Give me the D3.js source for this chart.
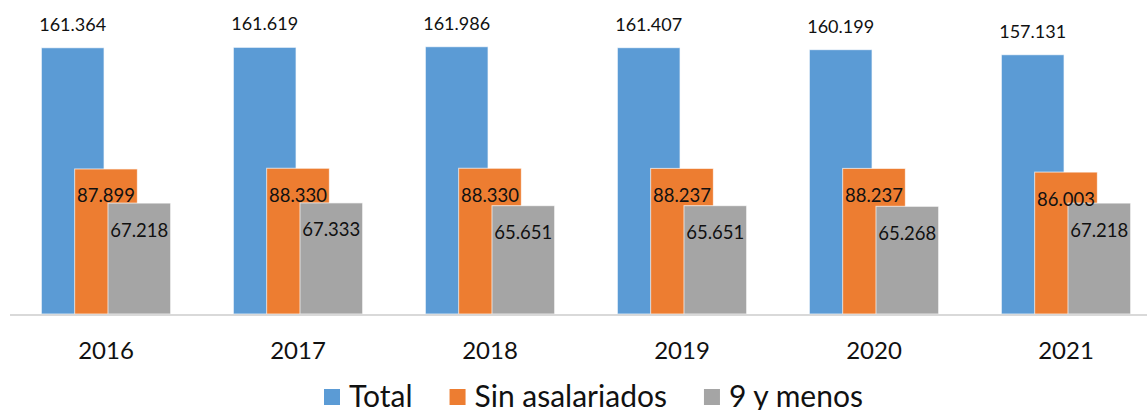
<!DOCTYPE html>
<html>
<head>
<meta charset="utf-8">
<script src="https://cdn.jsdelivr.net/npm/d3@7"></script>
<style>
    body { margin: 0; background: #fff; }
    svg text { font-family: Lato, "Open Sans", sans-serif; fill: #111; }
</style>
</head>
<body>
<div id="chart"></div>
<script>
// datos
var years = ["2016", "2017", "2018", "2019", "2020", "2021"];
var seriesNames = ["Total", "Sin asalariados", "9 y menos"];
var total = [161.364, 161.619, 161.986, 161.407, 160.199, 157.131];
var sinAsalariados = [87.899, 88.330, 88.330, 88.237, 88.237, 86.003];
var nueveYMenos = [67.218, 67.333, 65.651, 65.651, 65.268, 67.218];
var colors = ["#5b9bd5", "#ed7d31", "#a5a5a5"];

var width = 1147, height = 410;
var baseY = 315, topY = 17;

var svg = d3.select("#chart").append("svg")
    .attr("width", width)
    .attr("height", height);

var x = d3.scaleBand()
    .domain(years)
    .range([10, 1162])
    .padding(0);

var y = d3.scaleLinear()
    .domain([0, 180])
    .range([baseY - 1, topY]);

var step = x.bandwidth(),
    barWidth = step * 0.3265,
    offset = step * 0.1735;

var series = [total, sinAsalariados, nueveYMenos];

// Bars (drawn in order so each overlaps the previous)
series.forEach(function (values, s) {
    svg.append("g").selectAll("rect")
        .data(values)
        .enter()
        .append("rect")
        .attr("x", function (d, i) { return x(years[i]) + step / 2 + (s - 1) * offset - barWidth / 2; })
        .attr("y", function (d) { return y(d); })
        .attr("width", barWidth)
        .attr("height", function (d) { return y(0) - y(d); })
        .style("fill", colors[s])
        .style("stroke", "#fff")
        .style("stroke-opacity", 0.7)
        .style("stroke-width", 1);
});

// Axis
var axis = svg.append("g")
    .attr("transform", "translate(0," + baseY + ")")
    .call(d3.axisBottom(x).tickSize(0).tickPadding(27));
axis.select(".domain")
    .attr("d", "M10,0H" + width)
    .style("stroke", "#d9d9d9")
    .style("stroke-width", 2);
axis.selectAll("text")
    .style("font-size", "24px")
    .style("font-family", "Lato, sans-serif")
    .style("fill", "#111");

var fmt = function (d) { return d.toFixed(3); };

// Labels
svg.append("g").selectAll("text")
    .data(total)
    .enter()
    .append("text")
    .text(fmt)
    .attr("x", function (d, i) { return x(years[i]) + step / 2 - offset; })
    .attr("y", function (d) { return y(d) - 17; })
    .style("text-anchor", "middle")
    .style("font-size", "18px");

[sinAsalariados, nueveYMenos].forEach(function (values, k) {
    svg.append("g").selectAll("text")
        .data(values)
        .enter()
        .append("text")
        .text(fmt)
        .attr("x", function (d, i) { return x(years[i]) + step / 2 + k * offset; })
        .attr("y", function (d) { return y(d) + 33.5; })
        .style("text-anchor", "middle")
        .style("font-size", "18.5px");
});

// Legend (bottom edge clips descenders, as in the original)
var legend = svg.append("g").attr("transform", "translate(324,0)");
var lx = 0;
seriesNames.forEach(function (name, i) {
    legend.append("rect")
        .attr("x", lx)
        .attr("y", 389)
        .attr("width", 16)
        .attr("height", 16)
        .style("fill", colors[i]);
    var t = legend.append("text")
        .attr("x", lx + 25)
        .attr("y", 407)
        .style("font-size", "30px")
        .text(name);
    lx += 25 + t.node().getComputedTextLength() + 37;
});
</script>
</body>
</html>
